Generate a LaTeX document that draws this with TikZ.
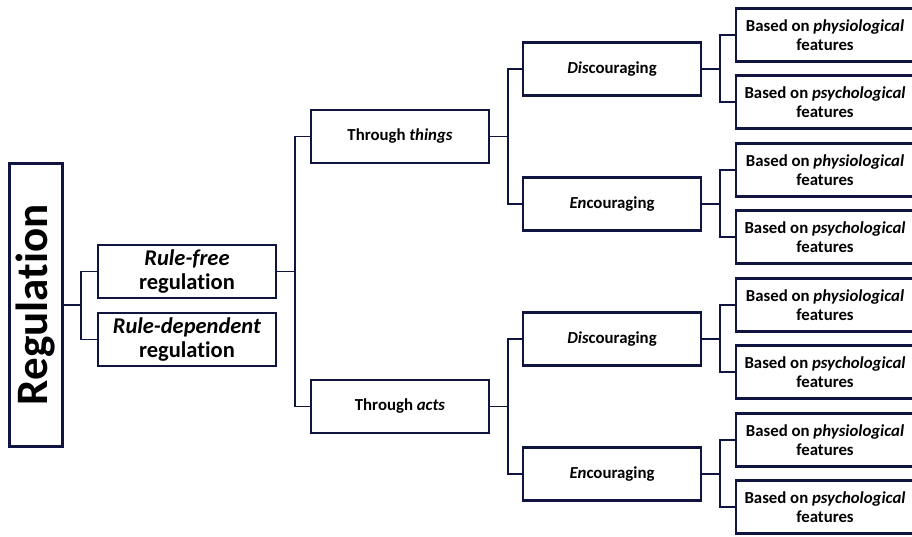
\documentclass[tikz,border=0pt]{standalone}
\usepackage{fontspec}
\setmainfont{Carlito}[Ligatures=NoCommon]
\usepackage{graphicx}
\definecolor{navy}{RGB}{16,20,64}
\tikzset{
  box/.style={draw=navy, line width=2.8pt, fill=white, inner sep=0pt, align=center,
    minimum width=178pt, minimum height=53pt, font=\bfseries\fontsize{16.8}{18.5}\selectfont},
  bigbox/.style={box, font=\bfseries\fontsize{22.5}{24.5}\selectfont},
  link/.style={draw=navy, line width=1.9pt},
}
\begin{document}
\begin{tikzpicture}[x=1pt,y=-1pt]
\clip (0,0) rectangle (912,537);
\fill[white] (0,0) rectangle (912,537);
\node[box, minimum width=53pt, minimum height=283pt, font=\bfseries\fontsize{45}{45}\selectfont] (reg) at (36,305) {\rotatebox{90}{Regulation}};
\node[bigbox] (rf) at (187,271.5) {\textit{Rule-free}\\regulation};
\node[bigbox] (rd) at (187,339.5) {\textit{Rule-dependent}\\regulation};
\node[box] (tt) at (400,136.5) {Through \textit{things}};
\node[box] (ta) at (400,406.5) {Through \textit{acts}};
\node[box] (d1) at (612,69) {\textit{Dis}couraging};
\node[box] (e1) at (612,204) {\textit{En}couraging};
\node[box] (d2) at (612,339) {\textit{Dis}couraging};
\node[box] (e2) at (612,474) {\textit{En}couraging};
\node[box] (l1) at (825,35) {Based on \textit{physiological}\\features};
\node[box] (l2) at (825,102) {Based on \textit{psychological}\\features};
\node[box] (l3) at (825,170) {Based on \textit{physiological}\\features};
\node[box] (l4) at (825,237) {Based on \textit{psychological}\\features};
\node[box] (l5) at (825,305) {Based on \textit{physiological}\\features};
\node[box] (l6) at (825,372) {Based on \textit{psychological}\\features};
\node[box] (l7) at (825,440) {Based on \textit{physiological}\\features};
\node[box] (l8) at (825,507) {Based on \textit{psychological}\\features};
\foreach \p/\c in {reg/rf,reg/rd,rf/tt,rf/ta,tt/d1,tt/e1,ta/d2,ta/e2,d1/l1,d1/l2,e1/l3,e1/l4,d2/l5,d2/l6,e2/l7,e2/l8}
  \draw[link] (\p.east) -- ++(17.5,0) |- (\c.west);
\end{tikzpicture}
\end{document}
